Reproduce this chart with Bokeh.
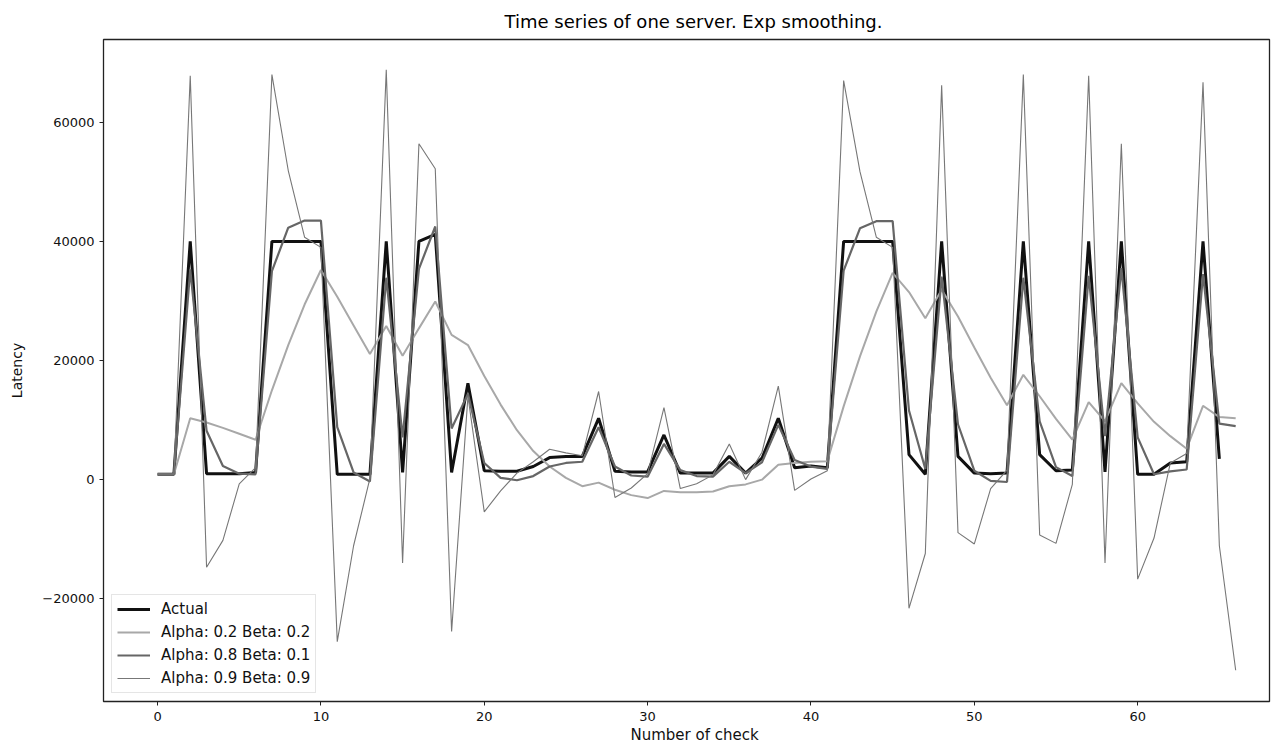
from bokeh.plotting import figure
from bokeh.models import Range1d, FixedTicker, Legend, LegendItem, Title
from bokeh.embed import file_html
from bokeh.resources import INLINE

# ---- data ----
actual = [900, 900, 40000, 1000, 1000, 1000, 1200, 40000, 40000, 40000,
          40000, 900, 900, 900, 40000, 1200, 40000, 41200, 1200, 16200,
          1500, 1400, 1400, 2200, 3700, 3900, 3900, 10300, 1400, 1300,
          1300, 7500, 1100, 1100, 1100, 3900, 1100, 3600, 10300, 2000,
          2300, 2000, 40000, 40000, 40000, 40000, 4200, 900, 40000, 3900,
          1100, 1000, 1100, 40000, 4200, 1500, 1600, 40000, 1300, 40000,
          900, 900, 2800, 3000, 40000, 3500]

smooth_a02_b02 = [900, 900, 10300, 9600, 8700, 7700, 6700, 15000, 22600, 29400,
                  35200, 30700, 25900, 21100, 25800, 20800, 25400, 29900, 24300, 22600,
                  17400, 12600, 8300, 4800, 2200, 300, -1100, -500, -1700, -2600,
                  -3100, -1900, -2100, -2100, -2000, -1100, -800, 0, 2500, 2800,
                  3000, 3100, 12300, 20700, 28200, 34700, 31500, 27100, 31900, 27400,
                  22200, 17100, 12500, 17600, 14000, 10200, 6700, 13000, 9800, 16200,
                  12800, 9700, 7300, 5200, 12400, 10500, 10300]

smooth_a08_b01 = [900, 900, 35300, 8200, 2300, 1000, 900, 35000, 42300, 43500,
                  43500, 8800, 1200, -300, 33900, 7100, 35400, 42500, 8600, 14400,
                  2800, 300, -100, 600, 2200, 2800, 3000, 8800, 2200, 700,
                  500, 6000, 1600, 600, 500, 3000, 1100, 2900, 9200, 3300,
                  2200, 1800, 35100, 42200, 43400, 43400, 11600, 1800, 34100, 9300,
                  1500, -200, -400, 33900, 9800, 2100, 600, 34200, 7300, 35500,
                  7100, 900, 1400, 1700, 34500, 9400, 9000]

smooth_a09_b09 = [900, 900, 67800, -14700, -10200, -700, 2000, 68000, 51900, 40700,
                  39000, -27200, -11100, 200, 68800, -14000, 56400, 52200, -25500, 14000,
                  -5400, -1900, 1100, 3000, 5100, 4500, 4000, 14800, -3000, -1400,
                  1000, 12100, -1500, -700, 800, 6000, 0, 4600, 15700, -1800,
                  100, 1500, 67000, 51700, 40700, 39000, -21600, -12400, 66200, -8900,
                  -10800, -1500, 1600, 68000, -9300, -10700, -800, 67800, -14000, 56400,
                  -16700, -9800, 2800, 4400, 66700, -11100, -32000]

series_labels = ["Actual", "Alpha: 0.2 Beta: 0.2", "Alpha: 0.8 Beta: 0.1", "Alpha: 0.9 Beta: 0.9"]
x_ticks = [0, 10, 20, 30, 40, 50, 60]
y_ticks = [-20000, 0, 20000, 40000, 60000]

FONT = "DejaVu Sans"

p = figure(frame_width=1166, frame_height=662,
           x_range=Range1d(-3.31, 68.07), y_range=Range1d(-37250, 73900),
           output_backend="svg", toolbar_location=None,
           min_border_left=103, min_border_right=2, min_border_top=38, min_border_bottom=38)

title = Title(text="Time series of one server. Exp smoothing.", align="left", offset=401,
              text_font=FONT, text_font_size="18px", text_font_style="normal",
              text_color="#000000", standoff=16)
p.add_layout(title, "above")

p.background_fill_color = "white"
p.border_fill_color = "white"
p.outline_line_color = "#222222"
p.outline_line_width = 1.3
p.grid.visible = False

for ax in (p.xaxis[0], p.yaxis[0]):
    ax.axis_line_color = None
    ax.major_tick_line_color = "#222222"
    ax.major_tick_out = 4
    ax.major_tick_in = 0
    ax.minor_tick_line_color = None
    ax.major_label_text_font = FONT
    ax.major_label_text_font_size = "13px"
    ax.major_label_text_color = "#111111"
    ax.axis_label_text_font = FONT
    ax.axis_label_text_font_style = "normal"
    ax.axis_label_text_color = "#111111"

p.xaxis.major_label_standoff = 6
p.yaxis.major_label_standoff = 5
p.xaxis.ticker = FixedTicker(ticks=x_ticks)
p.yaxis.ticker = FixedTicker(ticks=y_ticks)
p.yaxis.major_label_overrides = {t: (("\u2212" + str(-t)) if t < 0 else str(t)) for t in y_ticks}
p.yaxis.axis_label = "Latency"
p.yaxis.axis_label_text_font_size = "14px"
p.yaxis.axis_label_standoff = 14

xlabel = Title(text="Number of check", align="left", offset=527,
               text_font=FONT, text_font_size="15px", text_font_style="normal",
               text_color="#111111", standoff=0)
p.add_layout(xlabel, "below")

x_act = list(range(len(actual)))
x_sm = list(range(len(smooth_a02_b02)))

r0 = p.line(x_act, actual, line_color="#111111", line_width=3.0)
r1 = p.line(x_sm, smooth_a02_b02, line_color="#a8a8a8", line_width=2.0)
r2 = p.line(x_sm, smooth_a08_b01, line_color="#666666", line_width=2.2)
r3 = p.line(x_sm, smooth_a09_b09, line_color="#777777", line_width=1.1)

legend = Legend(items=[LegendItem(label=series_labels[0], renderers=[r0]),
                       LegendItem(label=series_labels[1], renderers=[r1]),
                       LegendItem(label=series_labels[2], renderers=[r2]),
                       LegendItem(label=series_labels[3], renderers=[r3])],
                location="bottom_left")
legend.label_text_font = FONT
legend.label_text_font_size = "15px"
legend.label_text_color = "#111111"
legend.glyph_width = 33
legend.glyph_height = 18
legend.label_height = 18
legend.label_standoff = 11
legend.spacing = 5
legend.padding = 5
legend.margin = 8
legend.border_line_color = "#cccccc"
legend.border_line_width = 1
legend.background_fill_alpha = 0.85
p.add_layout(legend)

open("out.html", "w").write(file_html(p, INLINE))
